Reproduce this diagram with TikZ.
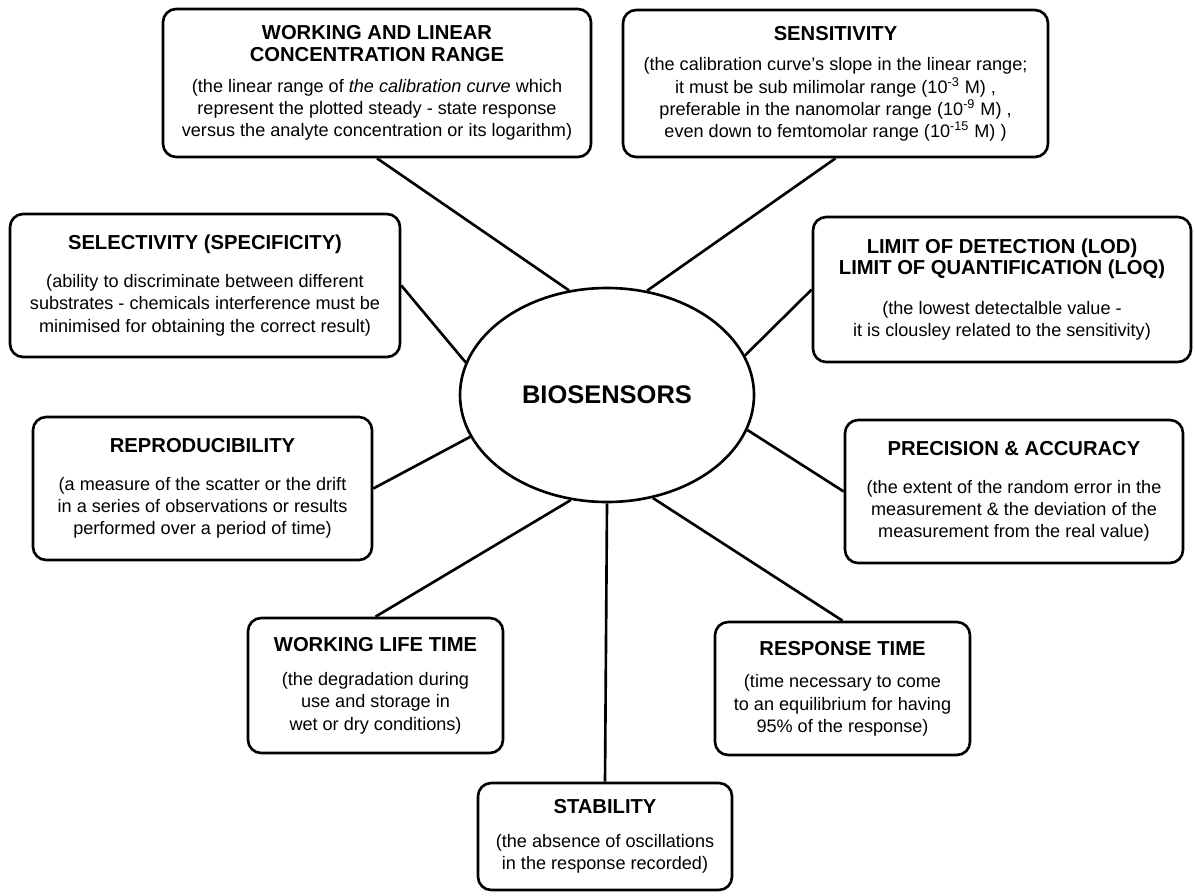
\documentclass[tikz,border=0pt]{standalone}
\usepackage{fontspec}
\setmainfont{Liberation Sans}
\usetikzlibrary{shapes.geometric}
\newcommand{\ttl}[1]{{\fontsize{11.5}{13}\selectfont\bfseries #1}}
\newcommand{\sx}[1]{\textsuperscript{#1}}

\begin{document}
\begin{tikzpicture}[x=0.02cm, y=-0.02cm,
    box/.style 2 args={draw, line width=1.5pt, rounded corners=7.5pt, align=center,
      minimum width=#1*0.02cm, minimum height=#2*0.02cm, inner sep=2pt,
      font=\fontsize{10.3}{12.6}\selectfont},
    link/.style={line width=1.5pt}]
  \useasboundingbox (0,0) rectangle (1195,895);
  \node[ellipse, draw, line width=1.5pt, minimum width=294*0.02cm, minimum height=214*0.02cm,
    inner sep=0pt, font=\fontsize{14.5}{16}\selectfont\bfseries] (bio) at (607,395) {BIOSENSORS};
  \node[box={428}{148}] (work) at (377,83) {\ttl{WORKING AND LINEAR}\\
    \ttl{CONCENTRATION RANGE}\\[5pt]
    (the linear range of \textit{the calibration curve} which\\
    represent the plotted steady - state response\\
    versus the analyte concentration or its logarithm)};
  \node[box={425}{147}] (sens) at (835.5,83.5) {\ttl{SENSITIVITY}\\[5pt]
    (the calibration curve’s slope in the linear range;\\
    it must be sub milimolar range (10\sx{-3} M) ,\\
    preferable in the nanomolar range (10\sx{-9} M) ,\\
    even down to femtomolar range (10\sx{-15} M) )};
  \node[box={390}{143}] (sel) at (205,285.5) {\ttl{SELECTIVITY (SPECIFICITY)}\\[9pt]
    (ability to discriminate between different\\
    substrates - chemicals interference must be\\
    minimised for obtaining the correct result)};
  \node[box={378}{145}] (lod) at (1002,289.5) {\ttl{LIMIT OF DETECTION (LOD)}\\[-0.5pt]
    \ttl{LIMIT OF QUANTIFICATION (LOQ)}\\[10pt]
    (the lowest detectalble value -\\
    it is clousley related to the sensitivity)};
  \node[box={339}{143}] (rep) at (202.5,488.5) {\ttl{REPRODUCIBILITY}\\[9pt]
    (a measure of the scatter or the drift\\
    in a series of observations or results\\
    performed over a period of time)};
  \node[box={338}{143}] (prec) at (1014,491.5) {\ttl{PRECISION \& ACCURACY}\\[9pt]
    (the extent of the random error in the\\
    measurement \& the deviation of the\\
    measurement from the real value)};
  \node[box={255}{135}] (life) at (375.5,685.5) {\ttl{WORKING LIFE TIME}\\[7pt]
    (the degradation during\\
    use and storage in\\
    wet or dry conditions)};
  \node[box={255}{133}] (resp) at (842.5,688.5) {\ttl{RESPONSE TIME}\\[6pt]
    (time necessary to come\\
    to an equilibrium for having\\
    95\% of the response)};
  \node[box={254}{107}] (stab) at (605,836.5) {\ttl{STABILITY}\\[7pt]
    (the absence of oscillations\\
    in the response recorded)};
  \draw[link] (bio.110) -- (work.south);
  \draw[link] (bio.69) -- (sens.south);
  \draw[link] (bio.167) -- (sel.east);
  \draw[link] (bio.16) -- (lod.west);
  \draw[link] (bio.197) -- (rep.east);
  \draw[link] (bio.346) -- (prec.west);
  \draw[link] (bio.251) -- (life.north);
  \draw[link] (bio.294) -- (resp.north);
  \draw[link] (bio.south) -- (stab.north);
\end{tikzpicture}
\end{document}
